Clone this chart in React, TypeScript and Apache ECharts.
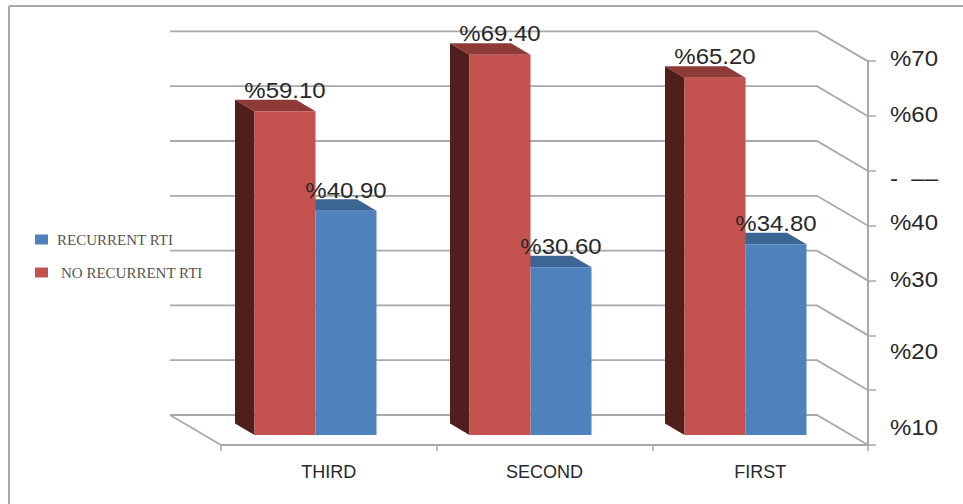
import React, { useEffect, useRef } from "react";
import * as echarts from "echarts";

const categories = ["THIRD", "SECOND", "FIRST"];
const recurrent = [40.9, 30.6, 34.8];
const noRecurrent = [59.1, 69.4, 65.2];
const gridValues = [0, 10, 20, 30, 40, 50, 60, 70];
const sideLabels = ["%70", "%60", "-  ––", "%40", "%30", "%20", "%10"];
const sideLabelTicks = [70, 60, 50, 40, 30, 20, 0];

// Vertical shift of each side label from the tick it belongs to.
const sideLabelShift = [-3, -2, 8, -3, -1, 16, -18];

const LINE = "#a9a9a9";
const DEPTH_X = -19.5;
const DEPTH_Y = -11.5;
const BAR_W = 61;
const LABEL_FONT = '22px "Liberation Sans", Arial, sans-serif';
const TEXT_STRETCH = 1.09;

// One 3D column: front face, top face and, optionally, the left side face.
function columnShapes(x0: number, x1: number, yTop: number, yBase: number, colors: any, withSide: boolean) {
  const out: any[] = [];
  if (withSide) {
    out.push({
      type: "polygon",
      shape: { points: [[x0, yTop], [x0 + DEPTH_X, yTop + DEPTH_Y], [x0 + DEPTH_X, yBase + DEPTH_Y], [x0, yBase]] },
      style: { fill: colors.side },
    });
  }
  out.push({
    type: "polygon",
    shape: { points: [[x0, yTop], [x1, yTop], [x1 + DEPTH_X, yTop + DEPTH_Y], [x0 + DEPTH_X, yTop + DEPTH_Y]] },
    style: { fill: colors.top },
  });
  out.push({
    type: "rect",
    shape: { x: x0, y: yTop, width: x1 - x0, height: yBase - yTop },
    style: { fill: colors.front },
  });
  return out;
}

function columnSeries(name: string, values: number[], colors: any, lead: boolean) {
  return {
    type: "custom",
    name,
    xAxisIndex: 0,
    yAxisIndex: 0,
    z: lead ? 4 : 3,
    itemStyle: { color: colors.front },
    clip: false,
    data: values.map((v, i) => [i, v]),
    encode: { x: 0, y: 1 },
    renderItem(_p: any, api: any) {
      const idx = api.value(0);
      const val = api.value(1);
      const [cx, yTop] = api.coord([idx, val]);
      const yBase = api.coord([idx, 0])[1];
      const x0 = lead ? cx - BAR_W : cx;
      const x1 = lead ? cx : cx + BAR_W;
      return {
        type: "group",
        children: columnShapes(x0, x1, yTop, yBase, colors, lead),
      };
    },
  };
}

// Value labels are drawn last so they stay above every column.
function valueLabelSeries(values: number[], lead: boolean) {
  return {
    type: "custom",
    xAxisIndex: 0,
    yAxisIndex: 0,
    z: 6,
    silent: true,
    clip: false,
    data: values.map((v, i) => [i, v]),
    encode: { x: 0, y: 1 },
    renderItem(_p: any, api: any) {
      const [cx, yTop] = api.coord([api.value(0), api.value(1)]);
      return {
        type: "text",
        x: lead ? cx - BAR_W / 2 : cx + BAR_W / 2,
        y: yTop - 21,
        scaleX: TEXT_STRETCH,
        style: {
          text: `%${api.value(1).toFixed(2)}`,
          font: LABEL_FONT,
          fill: "#26282c",
          align: "center",
          verticalAlign: "middle",
        },
      };
    },
  };
}

// Back wall gridlines with their slant down to the value axis, plus the floor's left edge.
const wallSeries = {
  type: "custom",
  xAxisIndex: 0,
  yAxisIndex: 0,
  z: 1,
  silent: true,
  clip: false,
  data: gridValues.map((v) => [0, v]),
  encode: { x: 0, y: 1 },
  renderItem(p: any, api: any) {
    const y = api.coord([0, api.value(1)])[1];
    const left = p.coordSys.x;
    const right = left + p.coordSys.width;
    const back = y - 20;
    const children: any[] = [
      {
        type: "polyline",
        shape: { points: [[left - 38, back], [right - 36, back], [right + 15, y + 10]] },
        style: { stroke: LINE, lineWidth: 1.8, fill: "none" },
      },
    ];
    if (api.value(1) === 0) {
      children.push({
        type: "line",
        shape: { x1: left - 38, y1: back, x2: left + 13, y2: y + 10 },
        style: { stroke: LINE, lineWidth: 1.8 },
      });
    }
    return { type: "group", children };
  },
};

const sideLabelSeries = {
  type: "custom",
  xAxisIndex: 1,
  yAxisIndex: 1,
  z: 6,
  silent: true,
  clip: false,
  data: sideLabelTicks.map((v, i) => [0, v, i]),
  encode: { x: 0, y: 1 },
  renderItem(p: any, api: any) {
    const i = api.value(2);
    const y = api.coord([0, api.value(1)])[1];
    return {
      type: "text",
      x: p.coordSys.x + p.coordSys.width + 22,
      y: y + sideLabelShift[i],
      scaleX: TEXT_STRETCH,
      style: {
        text: sideLabels[i],
        font: LABEL_FONT,
        fill: "#26282c",
        align: "left",
        verticalAlign: "middle",
      },
    };
  },
};

export default function App() {
  const ref = useRef<HTMLDivElement>(null);

  useEffect(() => {
    document.body.style.margin = "0";
    const chart = echarts.init(ref.current!, undefined, { renderer: "svg" });
    const axisLine = { show: true, lineStyle: { color: LINE, width: 2 } };
    chart.setOption({
      animation: false,
      backgroundColor: "#ffffff",
      grid: [
        // plane of the column fronts
        { left: 208, top: 51.4, width: 645, height: 383.6 },
        // front edge of the floor and the value axis
        { left: 221, top: 61, width: 647, height: 384 },
      ],
      xAxis: [
        { type: "category", gridIndex: 0, data: categories, show: false },
        {
          type: "category",
          gridIndex: 1,
          data: categories,
          axisLine,
          axisTick: { show: true, length: 6, lineStyle: { color: LINE, width: 1.5 } },
          axisLabel: { color: "#26282c", fontFamily: "Liberation Sans", fontSize: 18, margin: 18 },
        },
      ],
      yAxis: [
        { type: "value", gridIndex: 0, min: 0, max: 70, interval: 10, show: false },
        {
          type: "value",
          gridIndex: 1,
          min: 0,
          max: 70,
          interval: 10,
          position: "right",
          axisLine,
          axisTick: { show: true, length: 8, lineStyle: { color: LINE, width: 1.5 } },
          axisLabel: { show: false },
          splitLine: { show: false },
        },
      ],
      legend: {
        show: true,
        orient: "vertical",
        left: 35,
        top: 232,
        padding: 0,
        itemWidth: 13,
        itemHeight: 10,
        itemGap: 18,
        icon: "rect",
        data: [
          { name: "RECURRENT RTI", textStyle: { padding: [0, 0, 0, 4] } },
          { name: "NO RECURRENT RTI", textStyle: { padding: [0, 0, 0, 8] } },
        ],
        selectedMode: false,
        textStyle: { color: "#555555", fontFamily: "Liberation Serif", fontSize: 15 },
      },
      series: [
        wallSeries,
        columnSeries("RECURRENT RTI", recurrent, { front: "#4f81bd", top: "#3c6594", side: "#2e4f78" }, false),
        columnSeries("NO RECURRENT RTI", noRecurrent, { front: "#c3524f", top: "#8e3a37", side: "#4f1f1b" }, true),
        valueLabelSeries(noRecurrent, true),
        valueLabelSeries(recurrent, false),
        sideLabelSeries,
      ],
      graphic: [
        { type: "line", shape: { x1: 9, y1: 6, x2: 963, y2: 6 }, style: { stroke: LINE, lineWidth: 2 } },
        { type: "line", shape: { x1: 9, y1: 6, x2: 9, y2: 504 }, style: { stroke: LINE, lineWidth: 2 } },
      ],
    });
    return () => chart.dispose();
  }, []);

  return <div ref={ref} style={{ position: "fixed", left: 0, top: 0, width: 963, height: 504 }} />;
}
